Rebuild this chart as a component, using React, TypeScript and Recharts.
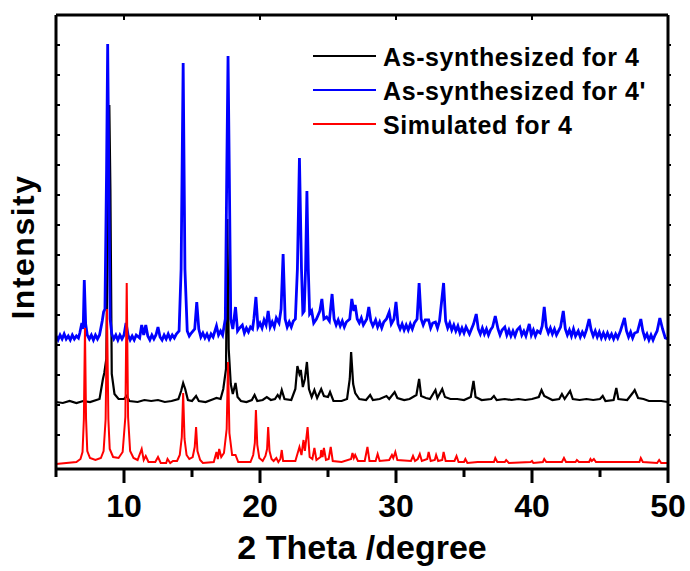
import React from 'react'
import { LineChart, Line, XAxis, YAxis, Legend } from 'recharts'

// 2θ (degree) vs intensity (a.u.), patterns stacked with offsets as in the figure
const simulated4: [number, number][] = [
  [5, 5], [6.5, 7], [6.8, 10], [6.95, 17], [7.05, 50], [7.13, 141], [7.21, 50], [7.3, 18], [7.5, 11], [7.9, 9],
  [8.3, 11], [8.5, 18], [8.65, 50], [8.75, 160], [8.85, 50], [8.95, 20], [9.2, 12], [9.6, 11], [9.9, 17], [10.1, 52],
  [10.2, 186], [10.3, 52], [10.45, 18], [10.7, 11], [11.0, 9], [11.3, 20], [11.45, 9], [11.6, 13], [11.8, 7], [12.3, 7],
  [12.5, 12], [12.7, 6], [13.1, 6], [13.2, 10], [13.4, 6], [13.6, 8], [13.9, 8], [14.1, 14], [14.25, 32], [14.35, 76],
  [14.45, 30], [14.6, 14], [14.8, 10], [15.05, 12], [15.2, 22], [15.3, 42], [15.4, 18], [15.6, 9], [15.8, 6], [16.6, 7],
  [16.8, 17], [16.9, 10], [17.0, 20], [17.15, 12], [17.35, 16], [17.55, 40], [17.65, 107], [17.75, 36], [17.95, 14],
  [18.2, 14], [18.4, 7], [19.3, 7], [19.5, 14], [19.62, 26], [19.7, 59], [19.8, 24], [19.95, 11], [20.2, 8], [20.4, 13],
  [20.52, 20], [20.6, 42], [20.7, 18], [20.85, 10], [21.0, 8], [21.2, 11], [21.35, 7], [21.5, 10], [21.6, 19], [21.7, 8],
  [22.6, 8], [22.9, 22], [23.05, 14], [23.2, 29], [23.3, 18], [23.5, 42], [23.65, 12], [23.85, 10], [24.0, 21],
  [24.15, 9], [24.45, 12], [24.5, 19], [24.6, 12], [24.7, 21], [24.85, 9], [25.05, 10], [25.2, 22], [25.35, 8], [26.0, 7],
  [26.7, 10], [26.8, 16], [26.9, 11], [27.0, 14], [27.2, 8], [27.7, 8], [27.9, 22], [28.05, 8], [28.5, 8], [28.65, 15],
  [28.8, 8], [29.5, 9], [29.7, 14], [29.8, 11], [29.95, 17], [30.1, 9], [31.1, 8], [31.25, 13], [31.4, 8], [31.6, 10],
  [31.75, 15], [31.9, 8], [32.3, 10], [32.4, 17], [32.55, 8], [32.85, 9], [32.95, 14], [33.1, 8], [33.4, 9], [33.5, 17],
  [33.65, 8], [34.3, 8], [34.45, 13], [34.6, 7], [35.0, 7], [35.1, 10], [35.25, 6], [36.0, 7], [37.2, 7], [37.3, 11],
  [37.45, 7], [38.0, 7], [38.1, 9], [38.3, 6], [39.9, 7], [40.0, 8], [40.1, 6], [40.8, 7], [40.9, 10], [41.05, 7],
  [42.2, 7], [42.35, 11], [42.5, 7], [43.2, 7], [43.3, 9], [43.45, 7], [44.2, 7], [44.3, 10], [44.4, 8], [44.55, 10],
  [44.7, 7], [45.5, 7], [46.5, 7], [47.3, 7], [47.9, 7], [48.0, 11], [48.15, 7], [49.2, 6], [49.35, 9], [49.5, 6],
  [50, 6],
]

const asSynth4: [number, number][] = [
  [5, 67], [5.5, 66], [6, 68], [6.5, 66], [7, 68], [7.5, 67], [8.2, 70], [8.45, 90], [8.55, 96], [8.7, 110], [8.85, 300],
  [8.92, 364], [9.0, 280], [9.1, 95], [9.3, 75], [9.6, 70], [10.0, 70], [10.2, 73], [10.4, 68], [11.0, 67], [11.5, 69],
  [12.0, 68], [12.5, 69], [13.0, 67], [13.5, 68], [14.0, 70], [14.2, 78], [14.35, 86], [14.5, 80], [14.7, 69], [15.0, 68],
  [15.3, 73], [15.5, 68], [16.0, 67], [16.6, 70], [16.8, 71], [17.1, 70], [17.3, 80], [17.5, 100], [17.6, 250],
  [17.7, 120], [17.85, 85], [18.0, 75], [18.2, 86], [18.35, 72], [18.6, 68], [19.0, 67], [19.4, 69], [19.6, 74],
  [19.8, 68], [20.2, 69], [20.5, 72], [20.8, 69], [21.1, 70], [21.3, 74], [21.45, 71], [21.6, 79], [21.8, 70], [22.3, 69],
  [22.6, 80], [22.75, 103], [22.9, 95], [23.0, 99], [23.15, 82], [23.3, 90], [23.45, 107], [23.6, 80], [23.8, 72],
  [24.0, 79], [24.2, 71], [24.5, 80], [24.7, 73], [25.0, 72], [25.15, 77], [25.4, 68], [26.0, 68], [26.4, 70], [26.6, 90],
  [26.7, 117], [26.85, 85], [27.0, 76], [27.3, 70], [27.8, 69], [28.1, 74], [28.3, 69], [28.8, 70], [29.3, 73], [29.5, 70],
  [29.9, 77], [30.1, 71], [30.6, 69], [31.0, 70], [31.5, 74], [31.7, 90], [31.85, 73], [32.2, 71], [32.5, 70], [32.9, 79],
  [33.05, 71], [33.4, 80], [33.6, 72], [34.0, 70], [34.5, 70], [35.0, 69], [35.5, 72], [35.7, 88], [35.85, 72], [36.3, 69],
  [37.0, 70], [37.2, 73], [37.4, 69], [38.0, 70], [38.5, 69], [39.0, 70], [39.5, 69], [40.0, 70], [40.5, 72], [40.7, 79],
  [40.9, 73], [41.5, 69], [42.0, 70], [42.2, 75], [42.4, 70], [42.8, 78], [43.0, 70], [43.5, 69], [44.0, 70], [44.5, 69],
  [45.0, 70], [45.2, 73], [45.4, 68], [46.0, 69], [46.2, 81], [46.35, 70], [47.0, 69], [47.4, 76], [47.55, 79], [47.8, 71],
  [48.2, 70], [48.6, 68], [49.0, 68], [49.5, 68], [50, 67],
]

const asSynth4p: [number, number][] = [
  [5, 133], [5.15, 129], [5.3, 134], [5.45, 130], [5.6, 135], [5.75, 130], [5.9, 133], [6.05, 129], [6.2, 134],
  [6.35, 130], [6.5, 133], [6.65, 131], [6.75, 136], [6.9, 146], [7.0, 140], [7.08, 189], [7.18, 145], [7.3, 134],
  [7.45, 130], [7.6, 134], [7.75, 129], [7.9, 134], [8.05, 130], [8.2, 134], [8.4, 148], [8.5, 157], [8.6, 160],
  [8.72, 300], [8.8, 425], [8.88, 300], [8.98, 150], [9.1, 135], [9.25, 130], [9.4, 134], [9.55, 129], [9.7, 134],
  [9.85, 130], [10.0, 134], [10.15, 146], [10.3, 134], [10.45, 129], [10.6, 133], [10.75, 129], [10.9, 134], [11.15, 131],
  [11.3, 144], [11.45, 134], [11.6, 144], [11.75, 133], [11.9, 129], [12.05, 134], [12.2, 130], [12.35, 134], [12.5, 142],
  [12.65, 132], [12.8, 129], [12.95, 134], [13.1, 130], [13.25, 135], [13.4, 130], [13.55, 134], [13.7, 131], [13.85, 135],
  [14.05, 138], [14.2, 200], [14.35, 406], [14.48, 200], [14.65, 138], [14.8, 133], [14.95, 136], [15.2, 140],
  [15.35, 167], [15.5, 140], [15.65, 132], [15.8, 136], [15.95, 131], [16.1, 135], [16.25, 130], [16.4, 135], [16.55, 132],
  [16.8, 143], [16.95, 134], [17.1, 138], [17.25, 134], [17.45, 150], [17.56, 300], [17.65, 413], [17.74, 300],
  [17.85, 150], [18.0, 140], [18.2, 162], [18.35, 138], [18.5, 141], [18.7, 144], [18.85, 136], [19.0, 141], [19.15, 137],
  [19.3, 142], [19.45, 140], [19.55, 150], [19.7, 172], [19.85, 142], [20.0, 146], [20.15, 141], [20.3, 149],
  [20.45, 144], [20.6, 158], [20.75, 142], [20.9, 147], [21.05, 142], [21.2, 151], [21.4, 146], [21.55, 160], [21.7, 215],
  [21.85, 150], [22.0, 142], [22.15, 147], [22.3, 142], [22.45, 148], [22.6, 150], [22.75, 200], [22.9, 311], [23.05, 200],
  [23.15, 156], [23.25, 158], [23.35, 200], [23.45, 278], [23.55, 200], [23.65, 155], [23.8, 158], [23.95, 146],
  [24.15, 150], [24.4, 158], [24.55, 170], [24.7, 150], [24.9, 152], [25.1, 148], [25.3, 175], [25.45, 150], [25.6, 144],
  [25.75, 149], [25.9, 143], [26.05, 148], [26.2, 142], [26.35, 147], [26.6, 150], [26.75, 170], [26.9, 158], [27.0, 164],
  [27.15, 150], [27.3, 146], [27.45, 151], [27.6, 144], [27.85, 150], [28.0, 162], [28.15, 148], [28.3, 143], [28.5, 149],
  [28.65, 142], [28.8, 147], [28.95, 141], [29.1, 147], [29.3, 150], [29.5, 157], [29.65, 145], [29.85, 150], [30.0, 167],
  [30.15, 145], [30.3, 140], [30.45, 145], [30.6, 139], [30.75, 144], [30.9, 139], [31.05, 145], [31.2, 140], [31.35, 146],
  [31.55, 150], [31.7, 186], [31.85, 150], [32.0, 144], [32.15, 149], [32.4, 149], [32.55, 141], [32.7, 146], [32.9, 147],
  [33.05, 141], [33.2, 148], [33.5, 186], [33.65, 148], [33.8, 141], [33.95, 146], [34.1, 139], [34.25, 144], [34.4, 138],
  [34.55, 143], [34.7, 136], [34.85, 141], [35.0, 136], [35.15, 142], [35.4, 135], [35.55, 140], [35.7, 145], [35.9, 155],
  [36.05, 140], [36.2, 135], [36.35, 141], [36.5, 135], [36.65, 140], [36.8, 134], [36.95, 139], [37.1, 142], [37.3, 153],
  [37.5, 140], [37.65, 134], [37.8, 139], [38.0, 142], [38.15, 134], [38.3, 139], [38.45, 133], [38.6, 138], [38.75, 133],
  [38.9, 139], [39.1, 142], [39.25, 134], [39.4, 138], [39.55, 133], [39.8, 145], [39.95, 134], [40.1, 139], [40.25, 133],
  [40.4, 138], [40.6, 136], [40.75, 143], [40.9, 162], [41.05, 142], [41.2, 136], [41.35, 141], [41.5, 135], [41.65, 140],
  [41.8, 134], [42.1, 142], [42.3, 158], [42.45, 140], [42.6, 134], [42.75, 139], [42.9, 133], [43.05, 140], [43.2, 133],
  [43.4, 138], [43.55, 132], [43.7, 137], [43.85, 133], [44.0, 139], [44.2, 150], [44.35, 139], [44.5, 133], [44.65, 138],
  [44.8, 132], [44.95, 137], [45.1, 131], [45.25, 136], [45.4, 131], [45.55, 136], [45.7, 131], [45.85, 135], [46.0, 130],
  [46.15, 135], [46.3, 131], [46.5, 138], [46.8, 151], [46.95, 138], [47.1, 132], [47.25, 137], [47.4, 131], [47.55, 136],
  [47.75, 137], [48.0, 150], [48.15, 138], [48.3, 131], [48.45, 135], [48.6, 129], [48.75, 134], [48.9, 129], [49.05, 134],
  [49.2, 138], [49.4, 151], [49.6, 140], [49.8, 131], [50, 130],
]

const xTicks = [5, 10, 15, 20, 25, 30, 35, 40, 45, 50]
const xTopTicks = [10, 20, 30, 40]
const yTicks = [34, 64, 94, 124, 154, 184, 214, 244, 274, 304, 334, 364, 394, 424]

const seriesNames = ['As-synthesized for 4', "As-synthesized for 4'", 'Simulated for 4']
const seriesColors = ['#000000', '#0000ff', '#ff0000']

const FONT = "'Liberation Sans', Arial, sans-serif"

const toPts = (arr: [number, number][]) => arr.map(([x, y]) => ({ x, y }))

const BottomTick = (props: any) => {
  const { x, y, payload } = props
  const major = payload.value % 10 === 0
  return (
    <g>
      <line x1={x} x2={x} y1={y} y2={y + (major ? 14 : 8)} stroke="#000" strokeWidth={3} />
      {major && (
        <text x={x} y={y + 48} textAnchor="middle" fontFamily={FONT} fontWeight="bold" fontSize={32} fill="#000">
          {payload.value}
        </text>
      )}
    </g>
  )
}

// small tick marks on the frame, dx/dy gives direction and length
const FrameTick = ({ x, y, dx = 0, dy = 0 }: any) => (
  <line x1={x} y1={y} x2={x + dx} y2={y + dy} stroke="#000" strokeWidth={2} />
)

const LegendBox = () => (
  <svg width={690} height={150} style={{ position: 'absolute', left: 0, top: 0, overflow: 'visible' }}>
    {seriesNames.map((name, i) => (
      <g key={name}>
        <line x1={313} x2={376} y1={56 + i * 34} y2={56 + i * 34} stroke={seriesColors[i]} strokeWidth={2} />
        <text x={383} y={66 + i * 34} fontFamily={FONT} fontWeight="bold" fontSize={25} letterSpacing={0.6} fill="#000">
          {name}
        </text>
      </g>
    ))}
  </svg>
)

export default function App() {
  return (
    <div style={{ position: 'absolute', left: 0, top: 0 }}>
      <LineChart width={690} height={571} margin={{ top: 15, right: 0, bottom: 0, left: 56 }}>
        <XAxis
          xAxisId="b"
          type="number"
          dataKey="x"
          domain={[5, 50]}
          ticks={xTicks}
          interval={0}
          height={102}
          axisLine={{ stroke: '#000', strokeWidth: 3 }}
          tickLine={false}
          tickSize={0}
          tickMargin={0}
          tick={<BottomTick />}
          allowDataOverflow
          label={{ value: '2 Theta /degree', position: 'insideBottom', offset: 12, fontFamily: FONT, fontWeight: 'bold', fontSize: 34, fill: '#000' }}
        />
        <XAxis
          xAxisId="t"
          orientation="top"
          type="number"
          dataKey="x"
          domain={[5, 50]}
          ticks={xTopTicks}
          interval={0}
          mirror
          tickLine={false}
          tickSize={0}
          tickMargin={0}
          tick={<FrameTick dy={5} />}
          axisLine={{ stroke: '#000', strokeWidth: 3 }}
          allowDataOverflow
        />
        <YAxis
          yAxisId="l"
          type="number"
          domain={[0, 454]}
          ticks={yTicks}
          interval={0}
          mirror
          tickLine={false}
          tickSize={0}
          tickMargin={0}
          tick={<FrameTick dx={4} />}
          axisLine={{ stroke: '#000', strokeWidth: 3 }}
          allowDataOverflow
          label={{
            content: () => (
              <text x={34} y={247} transform="rotate(-90 34 247)" textAnchor="middle" fontFamily={FONT} fontWeight="bold" fontSize={32} letterSpacing={1.5} fill="#000">
                Intensity
              </text>
            ),
          }}
        />
        <YAxis
          yAxisId="r"
          orientation="right"
          type="number"
          domain={[0, 454]}
          ticks={yTicks}
          interval={0}
          width={22}
          tickLine={false}
          tickSize={0}
          tickMargin={0}
          tick={<FrameTick dx={3} />}
          axisLine={{ stroke: '#000', strokeWidth: 3 }}
          allowDataOverflow
        />
        <Legend content={<LegendBox />} wrapperStyle={{ left: 0, top: 0 }} />
        <Line xAxisId="b" yAxisId="l" data={toPts(asSynth4)} dataKey="y" name={seriesNames[0]} stroke={seriesColors[0]} strokeWidth={2.2} dot={false} type="linear" isAnimationActive={false} />
        <Line xAxisId="b" yAxisId="l" data={toPts(asSynth4p)} dataKey="y" name={seriesNames[1]} stroke={seriesColors[1]} strokeWidth={2.8} dot={false} type="linear" isAnimationActive={false} />
        <Line xAxisId="b" yAxisId="l" data={toPts(simulated4)} dataKey="y" name={seriesNames[2]} stroke={seriesColors[2]} strokeWidth={2} dot={false} type="linear" isAnimationActive={false} />
      </LineChart>
    </div>
  )
}
